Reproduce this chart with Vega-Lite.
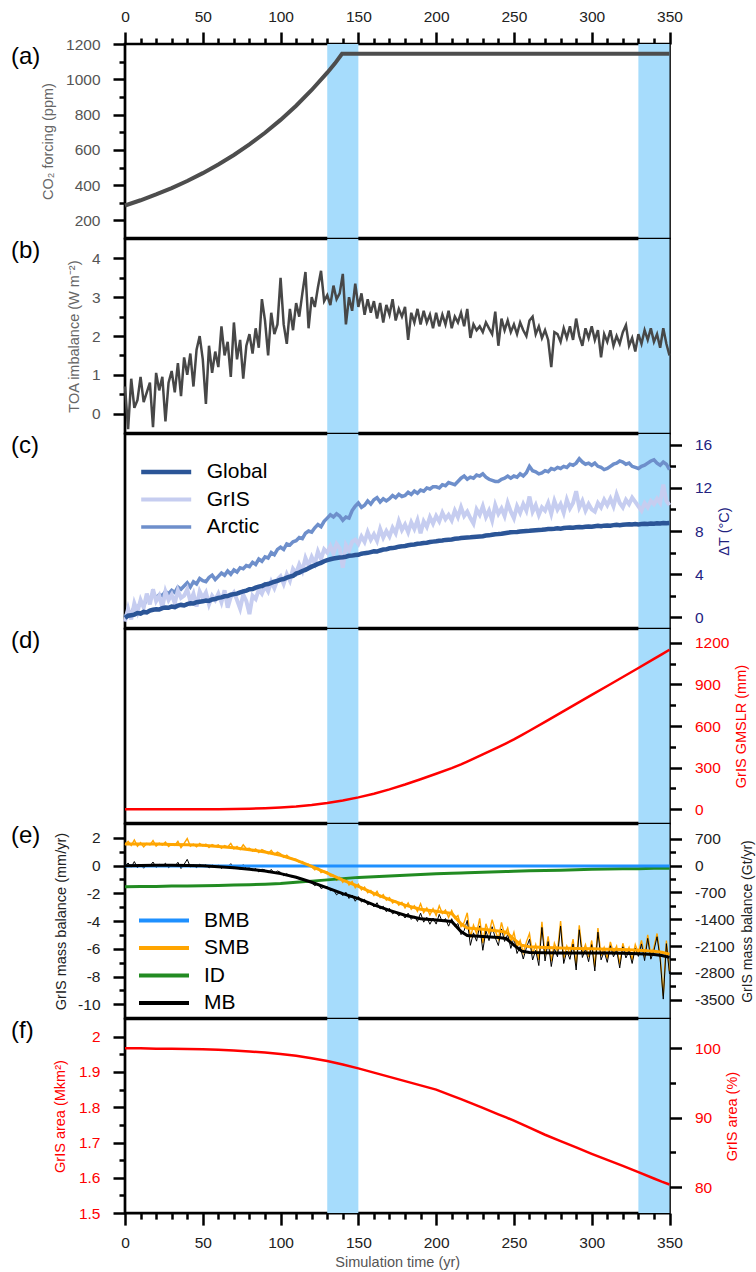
{
"$schema":"https://vega.github.io/schema/vega-lite/v6.json",
"padding":{"left":9,"top":7,"right":0,"bottom":0},
"background":"white",
"config":{
 "font":"Liberation Sans",
 "view":{"stroke":"black","strokeWidth":2.7},
 "axis":{"domain":false,"grid":false,"tickColor":"black","tickWidth":2.5,"labelFont":"Liberation Sans","titleFont":"Liberation Sans","labelFontSize":15.5,"titleFontSize":14.5,"titleFontWeight":"normal","labelOverlap":false,"labelFlush":false,"labelBound":false,"labelPadding":13,"titlePadding":8},
 "title":{"anchor":"start","frame":"group","fontSize":24,"fontWeight":"normal","font":"Liberation Sans","color":"black","offset":0,"dx":-114},
 "legend":{"title":null,"symbolType":"stroke","symbolSize":2500,"symbolStrokeWidth":4,"labelFontSize":21,"labelFont":"Liberation Sans","labelColor":"black","labelOffset":13,"padding":0,"rowPadding":2.5,"clipHeight":25}
},
"datasets":{
 "bands":[{"s":130,"e":150},{"s":330,"e":350}],
 "co2":[{"t":0,"co2":284.7},{"t":10,"co2":314.5},{"t":20,"co2":347.4},{"t":30,"co2":383.7},{"t":40,"co2":423.8},{"t":50,"co2":468.1},{"t":60,"co2":517.1},{"t":70,"co2":571.2},{"t":80,"co2":630.9},{"t":90,"co2":696.9},{"t":100,"co2":769.8},{"t":110,"co2":850.4},{"t":120,"co2":939.3},{"t":130,"co2":1037.6},{"t":135,"co2":1090.5},{"t":139.5,"co2":1145},{"t":350,"co2":1145}],
 "ann":[
{"t":0,"toa":0.70,"Global":-0.05,"GrIS":-0.4,"Arctic":0.0,"smb":1.50,"mb":-0.06},
{"t":2,"toa":-0.40,"Global":0.15,"GrIS":0.8,"Arctic":0.6,"smb":1.75,"mb":0.19},
{"t":4,"toa":0.90,"Global":0.20,"GrIS":-0.2,"Arctic":0.3,"smb":1.45,"mb":-0.11},
{"t":6,"toa":0.15,"Global":0.25,"GrIS":1.3,"Arctic":1.0,"smb":1.85,"mb":0.29},
{"t":8,"toa":0.35,"Global":0.40,"GrIS":0.5,"Arctic":0.8,"smb":1.40,"mb":-0.16},
{"t":10,"toa":0.95,"Global":0.35,"GrIS":1.6,"Arctic":1.4,"smb":1.65,"mb":0.11},
{"t":12,"toa":0.30,"Global":0.50,"GrIS":0.9,"Arctic":1.1,"smb":1.35,"mb":-0.19},
{"t":14,"toa":0.55,"Global":0.45,"GrIS":2.2,"Arctic":1.7,"smb":1.60,"mb":0.06},
{"t":16,"toa":0.80,"Global":0.62,"GrIS":1.2,"Arctic":1.5,"smb":1.50,"mb":-0.04},
{"t":18,"toa":-0.35,"Global":0.70,"GrIS":2.6,"Arctic":2.3,"smb":1.80,"mb":0.26},
{"t":20,"toa":1.05,"Global":0.75,"GrIS":1.5,"Arctic":1.8,"smb":1.40,"mb":-0.13},
{"t":22,"toa":0.60,"Global":0.72,"GrIS":2.0,"Arctic":2.1,"smb":1.62,"mb":0.09},
{"t":24,"toa":0.95,"Global":0.85,"GrIS":0.9,"Arctic":2.0,"smb":1.48,"mb":-0.05},
{"t":26,"toa":-0.20,"Global":0.90,"GrIS":2.4,"Arctic":2.4,"smb":1.70,"mb":0.17},
{"t":28,"toa":0.80,"Global":0.88,"GrIS":1.6,"Arctic":2.2,"smb":1.38,"mb":-0.15},
{"t":30,"toa":1.10,"Global":1.00,"GrIS":2.1,"Arctic":2.5,"smb":1.55,"mb":0.04},
{"t":32,"toa":0.55,"Global":0.95,"GrIS":1.3,"Arctic":2.3,"smb":1.45,"mb":-0.06},
{"t":34,"toa":1.30,"Global":1.08,"GrIS":2.5,"Arctic":2.8,"smb":1.75,"mb":0.24},
{"t":36,"toa":0.45,"Global":1.15,"GrIS":1.8,"Arctic":2.6,"smb":1.30,"mb":-0.21},
{"t":38,"toa":1.45,"Global":1.10,"GrIS":2.0,"Arctic":2.9,"smb":1.60,"mb":0.09},
{"t":40,"toa":1.00,"Global":1.22,"GrIS":2.6,"Arctic":3.2,"smb":1.95,"mb":0.45},
{"t":42,"toa":1.55,"Global":1.30,"GrIS":1.5,"Arctic":2.8,"smb":1.40,"mb":-0.10},
{"t":44,"toa":0.70,"Global":1.28,"GrIS":2.2,"Arctic":3.3,"smb":1.55,"mb":0.05},
{"t":46,"toa":1.65,"Global":1.40,"GrIS":1.0,"Arctic":3.1,"smb":1.35,"mb":-0.15},
{"t":48,"toa":2.00,"Global":1.45,"GrIS":2.4,"Arctic":3.6,"smb":1.60,"mb":0.10},
{"t":50,"toa":1.40,"Global":1.48,"GrIS":1.8,"Arctic":3.4,"smb":1.42,"mb":-0.06},
{"t":52,"toa":0.25,"Global":1.55,"GrIS":2.3,"Arctic":3.3,"smb":1.55,"mb":0.07},
{"t":54,"toa":1.75,"Global":1.52,"GrIS":1.2,"Arctic":3.7,"smb":1.30,"mb":-0.18},
{"t":56,"toa":1.05,"Global":1.65,"GrIS":2.0,"Arctic":3.9,"smb":1.52,"mb":0.04},
{"t":58,"toa":1.60,"Global":1.70,"GrIS":1.6,"Arctic":3.5,"smb":1.40,"mb":-0.08},
{"t":60,"toa":1.20,"Global":1.80,"GrIS":2.2,"Arctic":3.8,"smb":1.50,"mb":0.04},
{"t":62,"toa":2.25,"Global":1.85,"GrIS":1.4,"Arctic":4.1,"smb":1.25,"mb":-0.21},
{"t":64,"toa":1.50,"Global":1.95,"GrIS":2.5,"Arctic":3.9,"smb":1.45,"mb":-0.01},
{"t":66,"toa":1.85,"Global":1.98,"GrIS":0.9,"Arctic":4.3,"smb":1.35,"mb":-0.11},
{"t":68,"toa":0.95,"Global":2.10,"GrIS":1.9,"Arctic":4.0,"smb":1.60,"mb":0.14},
{"t":70,"toa":2.35,"Global":2.15,"GrIS":2.3,"Arctic":4.4,"smb":1.20,"mb":-0.23},
{"t":72,"toa":1.40,"Global":2.20,"GrIS":1.6,"Arctic":4.2,"smb":1.38,"mb":-0.05},
{"t":74,"toa":1.90,"Global":2.32,"GrIS":0.8,"Arctic":4.6,"smb":1.15,"mb":-0.28},
{"t":76,"toa":0.90,"Global":2.40,"GrIS":2.1,"Arctic":4.5,"smb":1.50,"mb":0.07},
{"t":78,"toa":1.75,"Global":2.48,"GrIS":1.5,"Arctic":4.8,"smb":1.22,"mb":-0.21},
{"t":80,"toa":2.05,"Global":2.60,"GrIS":0.3,"Arctic":4.7,"smb":1.25,"mb":-0.16},
{"t":82,"toa":1.55,"Global":2.62,"GrIS":2.0,"Arctic":5.1,"smb":1.05,"mb":-0.36},
{"t":84,"toa":2.20,"Global":2.75,"GrIS":1.7,"Arctic":4.9,"smb":1.20,"mb":-0.21},
{"t":86,"toa":1.70,"Global":2.85,"GrIS":2.6,"Arctic":5.4,"smb":0.95,"mb":-0.46},
{"t":88,"toa":2.95,"Global":2.90,"GrIS":2.2,"Arctic":5.2,"smb":1.15,"mb":-0.26},
{"t":90,"toa":2.40,"Global":3.05,"GrIS":2.9,"Arctic":5.6,"smb":1.05,"mb":-0.32},
{"t":92,"toa":1.50,"Global":3.08,"GrIS":2.4,"Arctic":5.5,"smb":0.85,"mb":-0.52},
{"t":94,"toa":2.60,"Global":3.20,"GrIS":3.3,"Arctic":6.0,"smb":1.10,"mb":-0.27},
{"t":96,"toa":2.05,"Global":3.30,"GrIS":2.7,"Arctic":5.8,"smb":0.80,"mb":-0.57},
{"t":98,"toa":2.30,"Global":3.38,"GrIS":3.5,"Arctic":6.3,"smb":0.98,"mb":-0.39},
{"t":100,"toa":3.50,"Global":3.50,"GrIS":3.8,"Arctic":6.5,"smb":0.85,"mb":-0.48},
{"t":102,"toa":2.30,"Global":3.55,"GrIS":3.1,"Arctic":6.3,"smb":0.60,"mb":-0.73},
{"t":104,"toa":1.80,"Global":3.68,"GrIS":4.0,"Arctic":6.8,"smb":0.75,"mb":-0.58},
{"t":106,"toa":2.70,"Global":3.78,"GrIS":3.4,"Arctic":6.7,"smb":0.55,"mb":-0.78},
{"t":108,"toa":2.15,"Global":3.85,"GrIS":4.5,"Arctic":7.0,"smb":0.50,"mb":-0.83},
{"t":110,"toa":2.85,"Global":4.05,"GrIS":4.1,"Arctic":7.1,"smb":0.45,"mb":-0.79},
{"t":112,"toa":2.50,"Global":4.15,"GrIS":4.9,"Arctic":7.4,"smb":0.25,"mb":-0.99},
{"t":114,"toa":3.10,"Global":4.30,"GrIS":4.3,"Arctic":7.3,"smb":0.30,"mb":-0.94},
{"t":116,"toa":3.65,"Global":4.40,"GrIS":5.5,"Arctic":7.8,"smb":0.05,"mb":-1.19},
{"t":118,"toa":2.20,"Global":4.55,"GrIS":4.8,"Arctic":8.0,"smb":0.10,"mb":-1.14},
{"t":120,"toa":3.00,"Global":4.70,"GrIS":5.6,"Arctic":7.9,"smb":-0.10,"mb":-1.25},
{"t":122,"toa":2.75,"Global":4.82,"GrIS":5.0,"Arctic":8.3,"smb":-0.30,"mb":-1.45},
{"t":124,"toa":3.25,"Global":4.95,"GrIS":6.1,"Arctic":8.6,"smb":-0.15,"mb":-1.30},
{"t":126,"toa":3.68,"Global":5.05,"GrIS":5.4,"Arctic":8.4,"smb":-0.50,"mb":-1.65},
{"t":128,"toa":2.90,"Global":5.20,"GrIS":6.3,"Arctic":8.9,"smb":-0.40,"mb":-1.55},
{"t":130,"toa":3.05,"Global":5.30,"GrIS":6.0,"Arctic":9.2,"smb":-0.45,"mb":-1.51},
{"t":132,"toa":2.80,"Global":5.38,"GrIS":6.6,"Arctic":9.5,"smb":-0.75,"mb":-1.81},
{"t":134,"toa":3.30,"Global":5.45,"GrIS":5.9,"Arctic":9.3,"smb":-0.70,"mb":-1.76},
{"t":136,"toa":2.95,"Global":5.50,"GrIS":6.8,"Arctic":9.6,"smb":-1.05,"mb":-2.11},
{"t":138,"toa":3.10,"Global":5.55,"GrIS":6.4,"Arctic":9.4,"smb":-0.85,"mb":-1.91},
{"t":140,"toa":3.60,"Global":5.58,"GrIS":4.6,"Arctic":9.0,"smb":-1.20,"mb":-2.17},
{"t":142,"toa":2.30,"Global":5.62,"GrIS":6.7,"Arctic":9.3,"smb":-0.95,"mb":-1.92},
{"t":144,"toa":3.00,"Global":5.70,"GrIS":6.2,"Arctic":9.2,"smb":-1.40,"mb":-2.37},
{"t":146,"toa":2.65,"Global":5.72,"GrIS":7.0,"Arctic":9.9,"smb":-1.15,"mb":-2.12},
{"t":148,"toa":3.35,"Global":5.78,"GrIS":7.2,"Arctic":10.3,"smb":-1.60,"mb":-2.57},
{"t":150,"toa":2.75,"Global":5.80,"GrIS":6.8,"Arctic":10.6,"smb":-1.35,"mb":-2.23},
{"t":152,"toa":3.10,"Global":5.90,"GrIS":7.5,"Arctic":10.2,"smb":-1.75,"mb":-2.63},
{"t":154,"toa":2.55,"Global":5.95,"GrIS":7.0,"Arctic":10.4,"smb":-1.55,"mb":-2.43},
{"t":156,"toa":2.95,"Global":5.98,"GrIS":7.9,"Arctic":10.8,"smb":-1.95,"mb":-2.83},
{"t":158,"toa":2.60,"Global":6.05,"GrIS":7.2,"Arctic":10.5,"smb":-1.80,"mb":-2.68},
{"t":160,"toa":2.90,"Global":6.12,"GrIS":7.7,"Arctic":10.9,"smb":-2.15,"mb":-2.98},
{"t":162,"toa":2.45,"Global":6.10,"GrIS":7.1,"Arctic":11.1,"smb":-1.85,"mb":-2.68},
{"t":164,"toa":2.85,"Global":6.20,"GrIS":8.2,"Arctic":10.7,"smb":-2.30,"mb":-3.13},
{"t":166,"toa":2.35,"Global":6.28,"GrIS":7.4,"Arctic":11.0,"smb":-2.10,"mb":-2.93},
{"t":168,"toa":2.80,"Global":6.30,"GrIS":8.0,"Arctic":10.8,"smb":-2.50,"mb":-3.33},
{"t":170,"toa":2.55,"Global":6.40,"GrIS":7.5,"Arctic":11.0,"smb":-2.30,"mb":-3.08},
{"t":172,"toa":2.95,"Global":6.42,"GrIS":8.3,"Arctic":11.3,"smb":-2.70,"mb":-3.48},
{"t":174,"toa":2.40,"Global":6.48,"GrIS":7.8,"Arctic":11.1,"smb":-2.55,"mb":-3.33},
{"t":176,"toa":2.70,"Global":6.55,"GrIS":8.9,"Arctic":11.4,"smb":-2.85,"mb":-3.63},
{"t":178,"toa":2.50,"Global":6.58,"GrIS":8.1,"Arctic":11.2,"smb":-2.65,"mb":-3.43},
{"t":180,"toa":2.75,"Global":6.62,"GrIS":8.6,"Arctic":11.3,"smb":-3.05,"mb":-3.78},
{"t":182,"toa":1.90,"Global":6.68,"GrIS":7.9,"Arctic":11.6,"smb":-2.70,"mb":-3.43},
{"t":184,"toa":2.60,"Global":6.72,"GrIS":8.8,"Arctic":11.4,"smb":-3.15,"mb":-3.88},
{"t":186,"toa":2.35,"Global":6.75,"GrIS":8.2,"Arctic":11.7,"smb":-2.90,"mb":-3.63},
{"t":188,"toa":2.70,"Global":6.82,"GrIS":9.0,"Arctic":11.5,"smb":-3.30,"mb":-4.03},
{"t":190,"toa":2.30,"Global":6.85,"GrIS":7.8,"Arctic":11.8,"smb":-2.75,"mb":-3.43},
{"t":192,"toa":2.65,"Global":6.90,"GrIS":8.9,"Arctic":11.7,"smb":-3.40,"mb":-4.08},
{"t":194,"toa":2.35,"Global":6.92,"GrIS":8.4,"Arctic":12.0,"smb":-3.05,"mb":-3.73},
{"t":196,"toa":2.55,"Global":6.98,"GrIS":9.3,"Arctic":11.9,"smb":-3.55,"mb":-4.23},
{"t":198,"toa":2.20,"Global":7.02,"GrIS":8.7,"Arctic":12.1,"smb":-3.10,"mb":-3.78},
{"t":200,"toa":2.60,"Global":7.05,"GrIS":9.4,"Arctic":12.1,"smb":-3.60,"mb":-4.22},
{"t":202,"toa":2.25,"Global":7.10,"GrIS":8.9,"Arctic":12.0,"smb":-2.90,"mb":-3.52},
{"t":204,"toa":2.55,"Global":7.12,"GrIS":9.7,"Arctic":12.3,"smb":-3.45,"mb":-4.07},
{"t":206,"toa":2.30,"Global":7.18,"GrIS":9.1,"Arctic":12.2,"smb":-3.20,"mb":-3.82},
{"t":208,"toa":2.65,"Global":7.20,"GrIS":9.5,"Arctic":12.5,"smb":-3.75,"mb":-4.37},
{"t":210,"toa":2.20,"Global":7.22,"GrIS":9.0,"Arctic":12.4,"smb":-3.25,"mb":-3.83},
{"t":212,"toa":2.50,"Global":7.28,"GrIS":9.9,"Arctic":12.3,"smb":-3.80,"mb":-4.38},
{"t":214,"toa":2.35,"Global":7.30,"GrIS":9.3,"Arctic":12.6,"smb":-3.60,"mb":-4.18},
{"t":216,"toa":2.60,"Global":7.35,"GrIS":10.2,"Arctic":12.9,"smb":-4.40,"mb":-4.98},
{"t":218,"toa":2.25,"Global":7.38,"GrIS":9.4,"Arctic":13.1,"smb":-4.10,"mb":-4.68},
{"t":220,"toa":2.70,"Global":7.40,"GrIS":9.8,"Arctic":12.8,"smb":-3.40,"mb":-3.95},
{"t":222,"toa":1.95,"Global":7.42,"GrIS":9.2,"Arctic":13.0,"smb":-5.20,"mb":-5.75},
{"t":224,"toa":2.30,"Global":7.45,"GrIS":8.7,"Arctic":12.9,"smb":-4.30,"mb":-4.85},
{"t":226,"toa":2.15,"Global":7.48,"GrIS":10.0,"Arctic":13.2,"smb":-4.90,"mb":-5.45},
{"t":228,"toa":2.25,"Global":7.50,"GrIS":9.5,"Arctic":13.1,"smb":-3.80,"mb":-4.35},
{"t":230,"toa":2.10,"Global":7.52,"GrIS":10.3,"Arctic":13.3,"smb":-5.60,"mb":-6.11},
{"t":232,"toa":2.35,"Global":7.58,"GrIS":9.3,"Arctic":13.0,"smb":-4.20,"mb":-4.71},
{"t":234,"toa":2.20,"Global":7.60,"GrIS":9.9,"Arctic":12.8,"smb":-4.90,"mb":-5.41},
{"t":236,"toa":2.05,"Global":7.65,"GrIS":9.0,"Arctic":12.7,"smb":-3.90,"mb":-4.41},
{"t":238,"toa":2.63,"Global":7.70,"GrIS":10.4,"Arctic":12.6,"smb":-4.70,"mb":-5.21},
{"t":240,"toa":1.75,"Global":7.72,"GrIS":9.6,"Arctic":12.6,"smb":-5.30,"mb":-5.77},
{"t":242,"toa":2.45,"Global":7.75,"GrIS":10.1,"Arctic":12.8,"smb":-4.10,"mb":-4.57},
{"t":244,"toa":2.15,"Global":7.80,"GrIS":9.4,"Arctic":12.9,"smb":-5.00,"mb":-5.47},
{"t":246,"toa":2.40,"Global":7.85,"GrIS":10.6,"Arctic":13.1,"smb":-4.50,"mb":-4.97},
{"t":248,"toa":2.10,"Global":7.88,"GrIS":9.8,"Arctic":12.9,"smb":-5.50,"mb":-5.97},
{"t":250,"toa":2.30,"Global":7.90,"GrIS":9.2,"Arctic":13.1,"smb":-4.80,"mb":-5.24},
{"t":252,"toa":2.05,"Global":7.92,"GrIS":10.3,"Arctic":13.0,"smb":-5.90,"mb":-6.34},
{"t":254,"toa":2.35,"Global":7.95,"GrIS":9.7,"Arctic":13.3,"smb":-5.40,"mb":-5.84},
{"t":256,"toa":2.15,"Global":7.98,"GrIS":10.5,"Arctic":13.1,"smb":-6.30,"mb":-6.74},
{"t":258,"toa":2.00,"Global":8.00,"GrIS":9.9,"Arctic":13.4,"smb":-5.50,"mb":-5.94},
{"t":260,"toa":2.40,"Global":8.02,"GrIS":11.2,"Arctic":14.0,"smb":-4.90,"mb":-5.31},
{"t":262,"toa":2.50,"Global":8.05,"GrIS":9.8,"Arctic":13.6,"smb":-6.40,"mb":-6.81},
{"t":264,"toa":2.05,"Global":8.08,"GrIS":10.4,"Arctic":13.5,"smb":-5.70,"mb":-6.11},
{"t":266,"toa":2.25,"Global":8.10,"GrIS":9.5,"Arctic":13.3,"smb":-6.80,"mb":-7.21},
{"t":268,"toa":1.95,"Global":8.12,"GrIS":10.2,"Arctic":13.4,"smb":-4.05,"mb":-4.46},
{"t":270,"toa":2.15,"Global":8.15,"GrIS":9.9,"Arctic":13.6,"smb":-6.50,"mb":-6.88},
{"t":272,"toa":1.90,"Global":8.18,"GrIS":10.6,"Arctic":13.5,"smb":-5.10,"mb":-5.48},
{"t":274,"toa":1.20,"Global":8.20,"GrIS":9.6,"Arctic":13.8,"smb":-6.90,"mb":-7.28},
{"t":276,"toa":2.10,"Global":8.22,"GrIS":10.8,"Arctic":13.7,"smb":-5.60,"mb":-5.98},
{"t":278,"toa":2.05,"Global":8.25,"GrIS":10.0,"Arctic":13.9,"smb":-6.20,"mb":-6.58},
{"t":280,"toa":1.85,"Global":8.22,"GrIS":10.5,"Arctic":13.8,"smb":-4.00,"mb":-4.36},
{"t":282,"toa":2.20,"Global":8.28,"GrIS":9.7,"Arctic":14.0,"smb":-6.70,"mb":-7.06},
{"t":284,"toa":1.95,"Global":8.30,"GrIS":10.9,"Arctic":13.9,"smb":-5.80,"mb":-6.16},
{"t":286,"toa":2.25,"Global":8.32,"GrIS":10.1,"Arctic":14.2,"smb":-6.40,"mb":-6.76},
{"t":288,"toa":1.90,"Global":8.30,"GrIS":10.6,"Arctic":14.1,"smb":-5.30,"mb":-5.66},
{"t":290,"toa":2.45,"Global":8.35,"GrIS":11.7,"Arctic":14.3,"smb":-7.20,"mb":-7.53},
{"t":292,"toa":2.00,"Global":8.38,"GrIS":10.2,"Arctic":14.7,"smb":-4.30,"mb":-4.63},
{"t":294,"toa":1.75,"Global":8.36,"GrIS":10.8,"Arctic":14.4,"smb":-6.30,"mb":-6.63},
{"t":296,"toa":2.20,"Global":8.40,"GrIS":9.9,"Arctic":14.2,"smb":-5.70,"mb":-6.03},
{"t":298,"toa":1.95,"Global":8.42,"GrIS":10.5,"Arctic":14.3,"smb":-6.60,"mb":-6.93},
{"t":300,"toa":2.25,"Global":8.40,"GrIS":10.0,"Arctic":14.1,"smb":-5.40,"mb":-5.70},
{"t":302,"toa":1.90,"Global":8.45,"GrIS":9.8,"Arctic":14.3,"smb":-7.30,"mb":-7.60},
{"t":304,"toa":2.15,"Global":8.48,"GrIS":10.6,"Arctic":14.0,"smb":-4.50,"mb":-4.80},
{"t":306,"toa":1.45,"Global":8.44,"GrIS":10.2,"Arctic":13.9,"smb":-6.50,"mb":-6.80},
{"t":308,"toa":2.05,"Global":8.50,"GrIS":10.9,"Arctic":13.7,"smb":-5.90,"mb":-6.20},
{"t":310,"toa":1.85,"Global":8.52,"GrIS":10.4,"Arctic":13.8,"smb":-6.70,"mb":-6.98},
{"t":312,"toa":2.15,"Global":8.50,"GrIS":11.0,"Arctic":14.0,"smb":-5.50,"mb":-5.78},
{"t":314,"toa":1.75,"Global":8.55,"GrIS":10.3,"Arctic":14.2,"smb":-6.30,"mb":-6.58},
{"t":316,"toa":2.00,"Global":8.58,"GrIS":11.4,"Arctic":14.3,"smb":-5.80,"mb":-6.08},
{"t":318,"toa":1.80,"Global":8.55,"GrIS":10.6,"Arctic":14.5,"smb":-7.10,"mb":-7.38},
{"t":320,"toa":2.10,"Global":8.58,"GrIS":10.2,"Arctic":14.4,"smb":-5.60,"mb":-5.86},
{"t":322,"toa":2.28,"Global":8.60,"GrIS":10.9,"Arctic":14.2,"smb":-6.40,"mb":-6.66},
{"t":324,"toa":1.75,"Global":8.62,"GrIS":10.5,"Arctic":14.3,"smb":-5.90,"mb":-6.16},
{"t":326,"toa":1.95,"Global":8.60,"GrIS":11.1,"Arctic":14.0,"smb":-6.80,"mb":-7.06},
{"t":328,"toa":1.60,"Global":8.65,"GrIS":10.7,"Arctic":13.9,"smb":-5.70,"mb":-5.96},
{"t":330,"toa":2.05,"Global":8.62,"GrIS":10.3,"Arctic":13.8,"smb":-6.30,"mb":-6.55},
{"t":332,"toa":1.80,"Global":8.65,"GrIS":9.9,"Arctic":14.0,"smb":-5.40,"mb":-5.65},
{"t":334,"toa":2.15,"Global":8.68,"GrIS":10.6,"Arctic":14.1,"smb":-6.60,"mb":-6.85},
{"t":336,"toa":1.90,"Global":8.66,"GrIS":10.2,"Arctic":14.3,"smb":-5.00,"mb":-5.25},
{"t":338,"toa":2.20,"Global":8.70,"GrIS":10.8,"Arctic":14.5,"smb":-6.50,"mb":-6.75},
{"t":340,"toa":1.85,"Global":8.68,"GrIS":10.5,"Arctic":14.6,"smb":-5.90,"mb":-6.13},
{"t":342,"toa":2.05,"Global":8.72,"GrIS":11.0,"Arctic":14.3,"smb":-4.90,"mb":-5.13},
{"t":344,"toa":1.70,"Global":8.70,"GrIS":10.6,"Arctic":14.1,"smb":-6.50,"mb":-6.73},
{"t":346,"toa":2.20,"Global":8.75,"GrIS":12.3,"Arctic":14.4,"smb":-9.40,"mb":-9.63},
{"t":348,"toa":1.80,"Global":8.72,"GrIS":10.8,"Arctic":14.2,"smb":-5.40,"mb":-5.63},
{"t":350,"toa":1.50,"Global":8.75,"GrIS":10.4,"Arctic":13.7,"smb":-7.60,"mb":-7.82}
 ],
 "sm":[
{"t":0,"BMB":-0.03,"SMB":1.55,"ID":-1.53,"MB":-0.01,"gmslr":0,"area":1.967},
{"t":10,"BMB":-0.03,"SMB":1.55,"ID":-1.51,"MB":0.01,"gmslr":0,"area":1.967},
{"t":20,"BMB":-0.03,"SMB":1.55,"ID":-1.50,"MB":0.02,"gmslr":0,"area":1.966},
{"t":30,"BMB":-0.03,"SMB":1.53,"ID":-1.48,"MB":0.02,"gmslr":0,"area":1.966},
{"t":40,"BMB":-0.03,"SMB":1.50,"ID":-1.47,"MB":0.00,"gmslr":0,"area":1.965},
{"t":50,"BMB":-0.03,"SMB":1.46,"ID":-1.45,"MB":-0.02,"gmslr":0.1,"area":1.964},
{"t":60,"BMB":-0.03,"SMB":1.38,"ID":-1.43,"MB":-0.08,"gmslr":0.6,"area":1.963},
{"t":70,"BMB":-0.03,"SMB":1.28,"ID":-1.40,"MB":-0.15,"gmslr":1.8,"area":1.961},
{"t":80,"BMB":-0.03,"SMB":1.15,"ID":-1.38,"MB":-0.26,"gmslr":3.9,"area":1.958},
{"t":90,"BMB":-0.03,"SMB":0.98,"ID":-1.34,"MB":-0.39,"gmslr":7.2,"area":1.955},
{"t":100,"BMB":-0.03,"SMB":0.75,"ID":-1.30,"MB":-0.58,"gmslr":12.2,"area":1.951},
{"t":110,"BMB":-0.03,"SMB":0.40,"ID":-1.21,"MB":-0.84,"gmslr":19.5,"area":1.946},
{"t":120,"BMB":-0.03,"SMB":-0.05,"ID":-1.12,"MB":-1.20,"gmslr":29.9,"area":1.939},
{"t":130,"BMB":-0.03,"SMB":-0.55,"ID":-1.03,"MB":-1.61,"gmslr":44.4,"area":1.931},
{"t":140,"BMB":-0.03,"SMB":-1.05,"ID":-0.94,"MB":-2.02,"gmslr":63,"area":1.921},
{"t":150,"BMB":-0.03,"SMB":-1.50,"ID":-0.85,"MB":-2.38,"gmslr":85.6,"area":1.910},
{"t":160,"BMB":-0.03,"SMB":-2.00,"ID":-0.80,"MB":-2.83,"gmslr":112.2,"area":1.898},
{"t":170,"BMB":-0.03,"SMB":-2.45,"ID":-0.75,"MB":-3.23,"gmslr":143.3,"area":1.886},
{"t":180,"BMB":-0.03,"SMB":-2.85,"ID":-0.70,"MB":-3.58,"gmslr":178.2,"area":1.874},
{"t":190,"BMB":-0.03,"SMB":-3.15,"ID":-0.65,"MB":-3.83,"gmslr":216.3,"area":1.862},
{"t":200,"BMB":-0.03,"SMB":-3.30,"ID":-0.59,"MB":-3.92,"gmslr":256,"area":1.850},
{"t":210,"BMB":-0.03,"SMB":-3.45,"ID":-0.55,"MB":-4.03,"gmslr":296.8,"area":1.833},
{"t":216,"BMB":-0.03,"SMB":-4.20,"ID":-0.53,"MB":-4.76,"gmslr":323.9,"area":1.823},
{"t":220,"BMB":-0.03,"SMB":-4.50,"ID":-0.52,"MB":-5.05,"gmslr":344,"area":1.816},
{"t":230,"BMB":-0.03,"SMB":-4.60,"ID":-0.48,"MB":-5.11,"gmslr":396,"area":1.798},
{"t":240,"BMB":-0.03,"SMB":-4.72,"ID":-0.44,"MB":-5.19,"gmslr":448.8,"area":1.780},
{"t":245,"BMB":-0.03,"SMB":-4.80,"ID":-0.43,"MB":-5.26,"gmslr":475.6,"area":1.771},
{"t":250,"BMB":-0.03,"SMB":-5.30,"ID":-0.41,"MB":-5.74,"gmslr":503.8,"area":1.762},
{"t":255,"BMB":-0.03,"SMB":-5.75,"ID":-0.39,"MB":-6.17,"gmslr":534.3,"area":1.752},
{"t":260,"BMB":-0.03,"SMB":-5.85,"ID":-0.38,"MB":-6.26,"gmslr":566.2,"area":1.742},
{"t":270,"BMB":-0.03,"SMB":-5.90,"ID":-0.35,"MB":-6.28,"gmslr":630.5,"area":1.722},
{"t":280,"BMB":-0.03,"SMB":-5.95,"ID":-0.33,"MB":-6.31,"gmslr":695,"area":1.704},
{"t":290,"BMB":-0.03,"SMB":-5.98,"ID":-0.30,"MB":-6.31,"gmslr":759.7,"area":1.686},
{"t":300,"BMB":-0.03,"SMB":-6.00,"ID":-0.27,"MB":-6.30,"gmslr":824.4,"area":1.668},
{"t":310,"BMB":-0.03,"SMB":-6.03,"ID":-0.25,"MB":-6.31,"gmslr":889,"area":1.651},
{"t":320,"BMB":-0.03,"SMB":-6.06,"ID":-0.23,"MB":-6.32,"gmslr":953.8,"area":1.634},
{"t":330,"BMB":-0.03,"SMB":-6.10,"ID":-0.22,"MB":-6.35,"gmslr":1018.6,"area":1.616},
{"t":340,"BMB":-0.03,"SMB":-6.18,"ID":-0.20,"MB":-6.41,"gmslr":1084,"area":1.598},
{"t":345,"BMB":-0.03,"SMB":-6.25,"ID":-0.195,"MB":-6.48,"gmslr":1117,"area":1.589},
{"t":350,"BMB":-0.03,"SMB":-6.40,"ID":-0.19,"MB":-6.62,"gmslr":1150.6,"area":1.581}
 ]
},
"spacing":0,
"bounds":"flush",
"resolve":{"scale":{"color":"independent","x":"independent","y":"independent","strokeWidth":"independent"},"legend":{"color":"independent"}},
"vconcat":[
 {"width":544.5,"height":194.1,"title":{"text":"(a)","dy":63.5},
  "layer":[
   {"data":{"name":"bands"},"mark":{"type":"rect","color":"#a6dcfc"},
    "encoding":{"x":{"field":"s","type":"quantitative","scale":{"domain":[0,350],"nice":false,"zero":false},
      "axis":{"orient":"top","title":null,"labelColor":"#222","labelPadding":8,"values":[0,10,20,30,40,50,60,70,80,90,100,110,120,130,140,150,160,170,180,190,200,210,220,230,240,250,260,270,280,290,300,310,320,330,340,350],
       "labelExpr":"datum.value % 50 === 0 ? '' + datum.value : ''","tickSize":{"condition":{"test":"datum.value % 50 === 0","value":12},"value":6}}},
     "x2":{"field":"e"}}},
   {"data":{"name":"co2"},"mark":{"type":"line","color":"#4d4d4d","strokeWidth":4},
    "encoding":{"x":{"field":"t","type":"quantitative","scale":{"domain":[0,350],"nice":false,"zero":false},
      "axis":{"orient":"top","title":null,"labelColor":"#222","labelPadding":8,"values":[0,10,20,30,40,50,60,70,80,90,100,110,120,130,140,150,160,170,180,190,200,210,220,230,240,250,260,270,280,290,300,310,320,330,340,350],
       "labelExpr":"datum.value % 50 === 0 ? '' + datum.value : ''","tickSize":{"condition":{"test":"datum.value % 50 === 0","value":12},"value":6}}},
     "y":{"field":"co2","type":"quantitative","scale":{"domain":[100,1200],"nice":false,"zero":false},
      "axis":{"orient":"left","title":"CO₂ forcing (ppm)","titleColor":"#666","labelColor":"#555","titlePadding":10,"values":[200,300,400,500,600,700,800,900,1000,1100,1200],
       "labelExpr":"datum.value % 200 === 0 ? '' + datum.value : ''","tickSize":{"condition":{"test":"datum.value % 200 === 0","value":12},"value":6}}}}}
  ]},
 {"width":544.5,"height":194.1,"title":{"text":"(b)","dy":28},
  "layer":[
   {"data":{"name":"bands"},"mark":{"type":"rect","color":"#a6dcfc"},
    "encoding":{"x":{"field":"s","type":"quantitative","scale":{"domain":[0,350],"nice":false,"zero":false},"axis":null},"x2":{"field":"e"}}},
   {"data":{"name":"ann"},"mark":{"type":"line","color":"#474747","strokeWidth":2.5},
    "encoding":{"x":{"field":"t","type":"quantitative","scale":{"domain":[0,350],"nice":false,"zero":false},"axis":null},
     "y":{"field":"toa","type":"quantitative","scale":{"domain":[-0.5,4.5],"nice":false,"zero":false},
      "axis":{"orient":"left","title":"TOA imbalance (W m⁻²)","titleColor":"#666","labelColor":"#555","titlePadding":10,"values":[0,0.5,1,1.5,2,2.5,3,3.5,4],
       "labelExpr":"datum.value % 1 === 0 ? '' + datum.value : ''","tickSize":{"condition":{"test":"datum.value % 1 === 0","value":12},"value":6}}}}}
  ]},
 {"width":544.5,"height":194.1,"title":{"text":"(c)","dy":28},
  "layer":[
   {"data":{"name":"bands"},"mark":{"type":"rect","color":"#a6dcfc"},
    "encoding":{"x":{"field":"s","type":"quantitative","scale":{"domain":[0,350],"nice":false,"zero":false},"axis":null},"x2":{"field":"e"}}},
   {"data":{"name":"ann"},"transform":[{"fold":["Arctic","GrIS","Global"],"as":["key","val"]}],
    "mark":{"type":"line"},
    "encoding":{"x":{"field":"t","type":"quantitative","scale":{"domain":[0,350],"nice":false,"zero":false},"axis":null},
     "y":{"field":"val","type":"quantitative","scale":{"domain":[-1,17],"nice":false,"zero":false},
      "axis":{"orient":"right","title":"ΔT (°C)","titleColor":"#22227f","labelColor":"#22227f","titleAngle":270,"titleBaseline":"top","titlePadding":6,"values":[0,2,4,6,8,10,12,14,16],
       "labelExpr":"datum.value % 4 === 0 ? '' + datum.value : ''","tickSize":{"condition":{"test":"datum.value % 4 === 0","value":12},"value":6}}},
     "color":{"field":"key","type":"nominal","scale":{"domain":["Global","GrIS","Arctic"],"range":["#2b5597","#c6cdf0","#6e8fcb"]},"legend":{"orient":"none","legendX":13.7,"legendY":25.5}},
     "strokeWidth":{"field":"key","type":"nominal","scale":{"domain":["Global","GrIS","Arctic"],"range":[4.5,3.5,2.5]},"legend":null}}}
  ]},
 {"width":544.5,"height":194.1,"title":{"text":"(d)","dy":28},
  "layer":[
   {"data":{"name":"bands"},"mark":{"type":"rect","color":"#a6dcfc"},
    "encoding":{"x":{"field":"s","type":"quantitative","scale":{"domain":[0,350],"nice":false,"zero":false},"axis":null},"x2":{"field":"e"}}},
   {"data":{"name":"sm"},"mark":{"type":"line","color":"#ff0000","strokeWidth":2.5},
    "encoding":{"x":{"field":"t","type":"quantitative","scale":{"domain":[0,350],"nice":false,"zero":false},"axis":null},
     "y":{"field":"gmslr","type":"quantitative","scale":{"domain":[-100,1300],"nice":false,"zero":false},
      "axis":{"orient":"right","title":"GrIS GMSLR (mm)","titleColor":"#ff0000","labelColor":"#ff0000","titleAngle":270,"titleBaseline":"top","titlePadding":6,"values":[0,150,300,450,600,750,900,1050,1200],
       "labelExpr":"datum.value % 300 === 0 ? '' + datum.value : ''","tickSize":{"condition":{"test":"datum.value % 300 === 0","value":12},"value":6}}}}}
  ]},
 {"width":544.5,"height":194.1,"title":{"text":"(e)","dy":28},
  "resolve":{"scale":{"y":"independent"}},
  "layer":[
   {"data":{"name":"bands"},"mark":{"type":"rect","color":"#a6dcfc"},
    "encoding":{"x":{"field":"s","type":"quantitative","scale":{"domain":[0,350],"nice":false,"zero":false},"axis":null},"x2":{"field":"e"}}},
   {"data":{"name":"ann"},"mark":{"type":"line","color":"#ffa500","strokeWidth":1.4},
    "encoding":{"x":{"field":"t","type":"quantitative","scale":{"domain":[0,350],"nice":false,"zero":false},"axis":null},
     "y":{"field":"smb","type":"quantitative","scale":{"domain":[-11,3],"nice":false,"zero":false},"axis":null}}},
   {"data":{"name":"ann"},"mark":{"type":"line","color":"#000000","strokeWidth":1},
    "encoding":{"x":{"field":"t","type":"quantitative","scale":{"domain":[0,350],"nice":false,"zero":false},"axis":null},
     "y":{"field":"mb","type":"quantitative","scale":{"domain":[-11,3],"nice":false,"zero":false},"axis":null}}},
   {"data":{"name":"sm"},"transform":[{"fold":["ID","BMB","SMB","MB"],"as":["key","val"]}],
    "mark":{"type":"line","strokeWidth":3},
    "encoding":{"x":{"field":"t","type":"quantitative","scale":{"domain":[0,350],"nice":false,"zero":false},"axis":null},
     "y":{"field":"val","type":"quantitative","scale":{"domain":[-11,3],"nice":false,"zero":false},
      "axis":{"orient":"left","title":"GrIS mass balance (mm/yr)","titleColor":"#222","labelColor":"#222","titlePadding":9,"values":[-10,-9,-8,-7,-6,-5,-4,-3,-2,-1,0,1,2],
       "labelExpr":"datum.value % 2 === 0 ? '' + datum.value : ''","tickSize":{"condition":{"test":"datum.value % 2 === 0","value":12},"value":6}}},
     "color":{"field":"key","type":"nominal","scale":{"domain":["BMB","SMB","ID","MB"],"range":["#1e90ff","#ffa500","#228b22","#000000"]},"legend":{"orient":"none","legendX":12,"legendY":84}}}},
   {"data":{"values":[{"v":0}]},"mark":{"type":"rule","opacity":0},
    "encoding":{"y":{"datum":0,"type":"quantitative","scale":{"domain":[-3982,1086],"nice":false,"zero":false},
      "axis":{"orient":"right","title":"GrIS mass balance (Gt/yr)","titleColor":"#222","labelColor":"#222","titleAngle":270,"titleBaseline":"top","titlePadding":6,"titleFontSize":14,"values":[-3500,-3150,-2800,-2450,-2100,-1750,-1400,-1050,-700,-350,0,350,700],
       "labelExpr":"datum.value % 700 === 0 ? '' + datum.value : ''","tickSize":{"condition":{"test":"datum.value % 700 === 0","value":12},"value":6}}}}}
  ]},
 {"width":544.5,"height":194.1,"title":{"text":"(f)","dy":28},
  "resolve":{"scale":{"y":"independent"}},
  "layer":[
   {"data":{"name":"bands"},"mark":{"type":"rect","color":"#a6dcfc"},
    "encoding":{"x":{"field":"s","type":"quantitative","scale":{"domain":[0,350],"nice":false,"zero":false},
      "axis":{"orient":"bottom","title":"Simulation time (yr)","titleColor":"#555","titlePadding":5,"labelPadding":10,"labelColor":"#222","values":[0,10,20,30,40,50,60,70,80,90,100,110,120,130,140,150,160,170,180,190,200,210,220,230,240,250,260,270,280,290,300,310,320,330,340,350],
       "labelExpr":"datum.value % 50 === 0 ? '' + datum.value : ''","tickSize":{"condition":{"test":"datum.value % 50 === 0","value":12},"value":6}}},
     "x2":{"field":"e"}}},
   {"data":{"name":"sm"},"mark":{"type":"line","color":"#ff0000","strokeWidth":2.5},
    "encoding":{"x":{"field":"t","type":"quantitative","scale":{"domain":[0,350],"nice":false,"zero":false},
      "axis":{"orient":"bottom","title":"Simulation time (yr)","titleColor":"#555","titlePadding":5,"labelPadding":10,"labelColor":"#222","values":[0,10,20,30,40,50,60,70,80,90,100,110,120,130,140,150,160,170,180,190,200,210,220,230,240,250,260,270,280,290,300,310,320,330,340,350],
       "labelExpr":"datum.value % 50 === 0 ? '' + datum.value : ''","tickSize":{"condition":{"test":"datum.value % 50 === 0","value":12},"value":6}}},
     "y":{"field":"area","type":"quantitative","scale":{"domain":[1.5,2.05],"nice":false,"zero":false},
      "axis":{"orient":"left","title":"GrIS area (Mkm²)","titleColor":"#ff0000","labelColor":"#ff0000","titlePadding":11,"values":[1.5,1.55,1.6,1.65,1.7,1.75,1.8,1.85,1.9,1.95,2],
       "labelExpr":"abs(datum.value*10 - round(datum.value*10)) < 0.001 ? '' + datum.value : ''","tickSize":{"condition":{"test":"abs(datum.value*10 - round(datum.value*10)) < 0.001","value":12},"value":6}}}}},
   {"data":{"values":[{"v":0}]},"mark":{"type":"rule","opacity":0},
    "encoding":{"y":{"datum":90,"type":"quantitative","scale":{"domain":[76.26,104.22],"nice":false,"zero":false},
      "axis":{"orient":"right","title":"GrIS area (%)","titleColor":"#ff0000","labelColor":"#ff0000","titleAngle":270,"titleBaseline":"top","titlePadding":5.5,"values":[80,85,90,95,100],
       "labelExpr":"datum.value % 10 === 0 ? '' + datum.value : ''","tickSize":{"condition":{"test":"datum.value % 10 === 0","value":12},"value":6}}}}}
  ]}
]
}
